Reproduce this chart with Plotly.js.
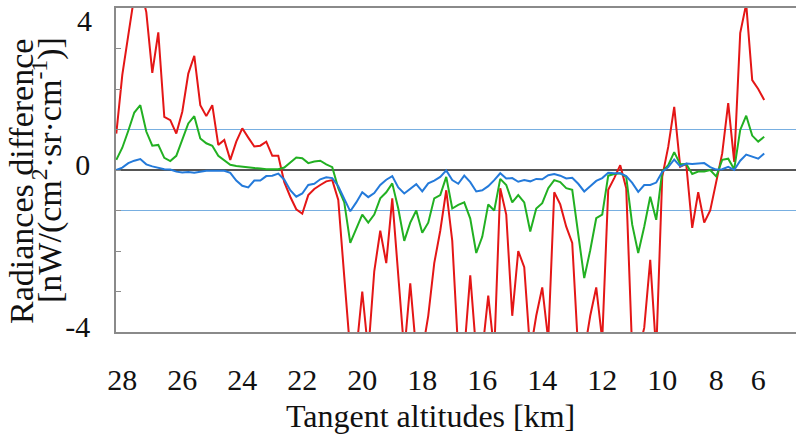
<!DOCTYPE html>
<html>
<head>
<meta charset="utf-8">
<script src="https://cdn.plot.ly/plotly-3.0.1.min.js"></script>
</head>
<body style="margin:0">
<div id="graph" style="width:796px;height:434px"></div>
<script>
// Tangent altitude of each sample (km); the original plots samples at even spacing
const altitudes = [
  28.2, 28, 27.8, 27.6, 27.4, 27.2, 27, 26.8, 26.6, 26.4,
  26.2, 26, 25.8, 25.6, 25.4, 25.2, 25, 24.8, 24.6, 24.4,
  24.2, 24, 23.8, 23.6, 23.4, 23.2, 23, 22.8, 22.6, 22.4,
  22.2, 22, 21.8, 21.6, 21.4, 21.2, 21, 20.8, 20.6, 20.4,
  20.2, 20, 19.8, 19.6, 19.4, 19.2, 19, 18.8, 18.6, 18.4,
  18.2, 18, 17.8, 17.6, 17.4, 17.2, 17, 16.8, 16.6, 16.4,
  16.2, 16, 15.8, 15.6, 15.4, 15.2, 15, 14.8, 14.6, 14.4,
  14.2, 14, 13.8, 13.6, 13.4, 13.2, 13, 12.8, 12.6, 12.4,
  12.2, 12, 11.8, 11.6, 11.4, 11.2, 11, 10.8, 10.6, 10.4,
  10.2, 10, 9.78, 9.56, 9.33, 9.11, 8.89, 8.67, 8.44, 8.22,
  8, 7.71, 7.43, 7.14, 6.86, 6.57, 6.29, 6, 5.71
];

const redDiff = [
  0.9, 2.35, 3.33, 4.3, 4.5, 3.9, 2.4, 3.4, 1.31, 1.23,
  0.9, 1.44, 2.38, 2.82, 1.6, 1.33, 1.6, 0.62, 0.74, 0.25,
  0.7, 1.03, 0.8, 0.58, 0.6, 0.7, 0.35, 0.35, -0.3, -0.66,
  -0.97, -1.08, -0.62, -0.47, -0.37, -0.28, -0.25, -0.74, -2.64, -4.5,
  -4.5, -3.0, -4.5, -2.5, -1.5, -2.3, -0.7, -2.55, -4.5, -2.8,
  -4.5, -4.5, -3.6, -2.3, -1.5, -0.5, -1.75, -4.5, -4.5, -2.6,
  -4.5, -4.5, -3.1, -4.5, -0.45, -1.1, -3.6, -2.0, -2.4, -4.5,
  -3.6, -2.9, -4.2, -0.55, -0.85, -1.4, -1.8, -4.5, -4.5, -3.6,
  -2.9, -4.2, -0.49, -0.2, 0.12, -0.45, -4.5, -4.5, -3.9, -2.22,
  -4.5, -0.17, 0.57, 1.56, 0.08, 0.15, -1.43, -0.55, -1.3, -1.0,
  -0.26, 0.41, 1.65, 0.2, 3.38, 4.1, 2.22, 2.0, 1.73
];

const greenDiff = [
  0.25, 0.55, 0.97, 1.42, 1.6, 0.95, 0.6, 0.62, 0.3, 0.22,
  0.35, 0.75, 1.15, 1.33, 0.78, 0.66, 0.6, 0.35, 0.25, 0.13,
  0.1, 0.08, 0.07, 0.05, 0.04, 0.02, 0.02, 0.02, 0.06, 0.18,
  0.31, 0.29, 0.17, 0.21, 0.23, 0.14, 0.07, -0.45, -0.8, -1.8,
  -1.45, -1.1, -1.3, -1.1, -0.7, -0.55, -0.33, -0.95, -1.75, -1.3,
  -1.0, -1.55, -1.3, -0.7, -0.62, -0.17, -0.95, -0.86, -0.8, -1.2,
  -2.05, -1.65, -0.85, -1.0, -0.22, -0.37, -0.8, -0.62, -0.8, -1.52,
  -0.95, -0.82, -0.45, -0.25, -0.3, -0.45, -0.49, -1.65, -2.67, -1.98,
  -1.19, -1.1, -0.14, -0.1, -0.08, -0.17, -1.35, -2.05, -1.4, -0.66,
  -1.23, -0.04, 0.12, 0.44, 0.14, 0.15, -0.1, -0.04, -0.04, 0.0,
  -0.16, 0.25, 0.28, 0.02, 0.99, 1.34, 0.85, 0.7, 0.82
];

const blueDiff = [
  0.0, 0.06, 0.17, 0.23, 0.27, 0.14, 0.09, 0.06, 0.02, 0.01,
  -0.04, -0.06, -0.05, -0.07, -0.04, -0.02, -0.02, -0.02, -0.02, -0.07,
  -0.26, -0.39, -0.43, -0.26, -0.26, -0.15, -0.14, -0.09, -0.24, -0.5,
  -0.66, -0.58, -0.37, -0.34, -0.23, -0.18, -0.2, -0.4, -0.7, -1.02,
  -0.8, -0.55, -0.67, -0.57, -0.37, -0.24, -0.15, -0.43, -0.58, -0.47,
  -0.35, -0.53, -0.33, -0.26, -0.17, -0.01, -0.25, -0.34, -0.14, -0.3,
  -0.53, -0.5, -0.4, -0.25, -0.08, -0.21, -0.2, -0.29, -0.25, -0.28,
  -0.22, -0.23, -0.13, -0.1, -0.14, -0.21, -0.19, -0.34, -0.53, -0.4,
  -0.27, -0.2, -0.07, -0.08, -0.08, -0.15, -0.32, -0.54, -0.37, -0.37,
  -0.31, -0.05, 0.07, 0.26, 0.09, 0.16, 0.15, 0.16, 0.17, 0.07,
  0.01, 0.02, 0.08, 0.0, 0.23, 0.38, 0.33, 0.28, 0.41
];

const xTickValues = [28, 26, 24, 22, 20, 18, 16, 14, 12, 10, 8, 6];
const xTickLabels = ['28', '26', '24', '22', '20', '18', '16', '14', '12', '10', '8', '6'];
const yTickValues = [-4, 0];
const yTickLabels = ['-4', '0'];
const yTopValue = 4;
const yTopLabel = '4';
const referenceLevels = [1, -1];

const traces = [
  {x: altitudes, y: redDiff, type: 'scatter', mode: 'lines', line: {color: 'rgb(228,22,22)', width: 2}},
  {x: altitudes, y: greenDiff, type: 'scatter', mode: 'lines', line: {color: 'rgb(34,176,34)', width: 2}},
  {x: altitudes, y: blueDiff, type: 'scatter', mode: 'lines', line: {color: 'rgb(36,122,218)', width: 2}}
];

const shapes = referenceLevels.map(v => ({
  type: 'line', xref: 'paper', x0: 0, x1: 1, yref: 'y', y0: v, y1: v,
  line: {color: 'rgb(120,175,225)', width: 1.2}, layer: 'below'
}));

const layout = {
  width: 796, height: 434,
  margin: {l: 116, r: 0, t: 8, b: 102},
  paper_bgcolor: '#ffffff', plot_bgcolor: '#ffffff',
  showlegend: false,
  xaxis: {
    type: 'category',
    range: [-0.05, 113.3],
    tickmode: 'array', tickvals: xTickValues, ticktext: xTickLabels,
    ticks: '', showgrid: false, zeroline: false,
    showline: true, linecolor: '#8a8a8a', linewidth: 1.5, mirror: true,
    tickfont: {family: 'Times New Roman', size: 30, color: '#111'},
    ticklabelstandoff: 20
  },
  yaxis: {
    range: [-4, 4],
    tickmode: 'array', tickvals: yTickValues, ticktext: yTickLabels,
    ticks: 'inside', ticklen: 5, tickcolor: '#8a8a8a', tickwidth: 1,
    minor: {dtick: 1, tick0: 0, ticks: 'inside', ticklen: 5, tickcolor: '#8a8a8a', tickwidth: 1, showgrid: false},
    showgrid: false,
    zeroline: true, zerolinecolor: '#555', zerolinewidth: 1.5,
    showline: true, linecolor: '#8a8a8a', linewidth: 1.5, mirror: false,
    tickfont: {family: 'Times New Roman', size: 30, color: '#111'},
    ticklabelshift: -6,
    ticklabelstandoff: 18
  },
  shapes: shapes,
  annotations: [
    {text: yTopLabel, showarrow: false, xref: 'paper', yref: 'y', x: -0.033, y: yTopValue,
     xanchor: 'right', yanchor: 'top', yshift: 6,
     font: {family: 'Times New Roman', size: 30, color: '#111'}},
    {text: 'Radiances difference', textangle: -90, showarrow: false,
     xref: 'paper', yref: 'paper', x: -0.1382, y: 0.463, xanchor: 'center', yanchor: 'middle',
     font: {family: 'Times New Roman', size: 34, color: '#111'}},
    {text: '[nW/(cm<sup>2</sup>·sr·cm<sup>-1</sup>)]', textangle: -90, showarrow: false,
     xref: 'paper', yref: 'paper', x: -0.1015, y: 0.5, xanchor: 'center', yanchor: 'middle',
     font: {family: 'Times New Roman', size: 34, color: '#111'}},
    {text: 'Tangent altitudes [km]', showarrow: false,
     xref: 'paper', yref: 'paper', x: 0.463, y: -0.259, xanchor: 'center', yanchor: 'middle',
     font: {family: 'Times New Roman', size: 32, color: '#111'}}
  ]
};

Plotly.newPlot('graph', traces, layout, {displayModeBar: false});
</script>
</body>
</html>
